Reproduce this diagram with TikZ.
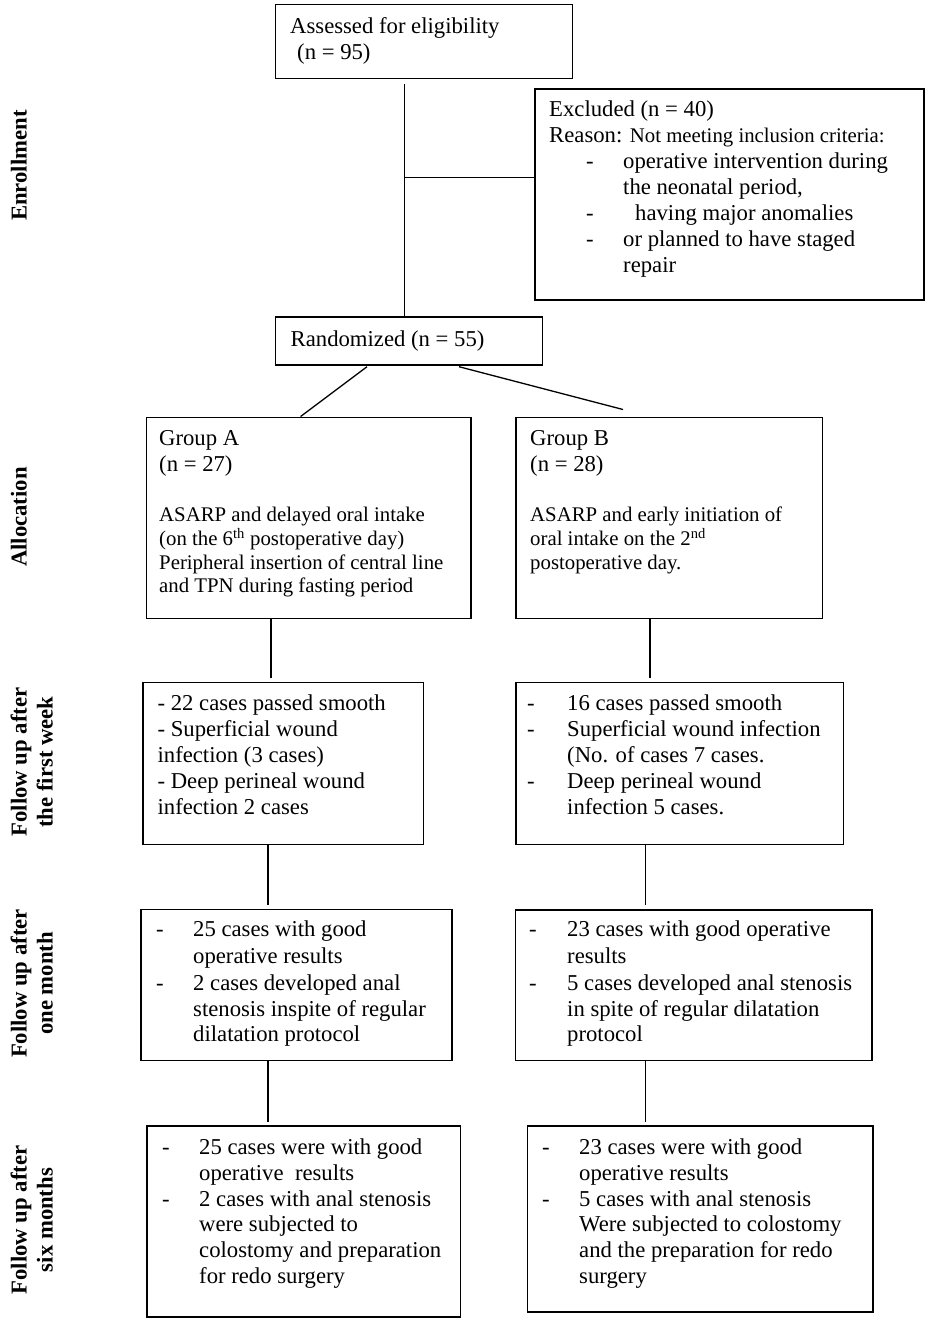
\documentclass[tikz,border=0pt]{standalone}
\usepackage{fontspec}
\setmainfont{Liberation Serif}
\newcommand\ftw{\fontsize{22.7}{26}\selectfont}
\newcommand\fel{\fontsize{20.8}{24}\selectfont}
\newcommand\bx[5]{\node[box, minimum width={(#4)-(#2)}, minimum height={(#5)-(#3)}] (#1) at (#2,#3) {};}
\begin{document}
\begin{tikzpicture}[x=1pt,y=-1pt,
 box/.style={draw, line width=1.5pt, inner sep=0pt, anchor=north west},
 txt/.style={anchor=base west, inner sep=0pt, font=\ftw},
 sm/.style={anchor=base west, inner sep=0pt, font=\fel},
 side/.style={anchor=base, inner sep=0pt, rotate=90, font=\ftw\bfseries},
 conn/.style={line width=1.3pt}]
\useasboundingbox[fill=white] (0,0) rectangle (927,1318);

% boxes
\bx{assess}{274.5}{3.5}{571.5}{77.5}
\bx{excl}{534}{88}{923}{299}
\bx{rand}{274.5}{316}{541.5}{364}
\bx{grpA}{145.5}{416.5}{470}{617.5}
\bx{grpB}{515}{416.5}{821.5}{617.5}
\bx{wkA}{142}{681.5}{422.5}{843.5}
\bx{wkB}{515}{681.5}{842.5}{843.5}
\bx{monA}{140}{908.5}{451}{1059.5}
\bx{monB}{514.5}{909}{871}{1059.5}
\bx{sixA}{146}{1125}{459.5}{1316}
\bx{sixB}{526.5}{1125}{872}{1311}

% connectors
\coordinate (v0) at (404.7,84);
\draw[conn] (v0) -- (v0 |- rand.north);
\coordinate (br) at (404.7,177.7);
\draw[conn] (br) -- (br -| excl.west);
\coordinate (dA0) at (367,366.7);
\coordinate (dA1) at (300.6,416.5);
\draw[conn] (dA0) -- (dA1 |- grpA.north);
\coordinate (dB0) at (459,366.7);
\coordinate (dB1) at (623,409.5);
\draw[conn] (dB0) -- (dB1);
\coordinate (a1) at (271,678.3);
\coordinate (b1) at (650,678.3);
\coordinate (a2) at (268,905);
\coordinate (b2) at (645.6,905);
\coordinate (a3) at (268,1122.3);
\coordinate (b3) at (645.6,1122.3);
\draw[conn] (grpA.south -| a1) -- (a1);
\draw[conn] (grpB.south -| b1) -- (b1);
\draw[conn] (wkA.south -| a2) -- (a2);
\draw[conn] (wkB.south -| b2) -- (b2);
\draw[conn] (monA.south -| a3) -- (a3);
\draw[conn] (monB.south -| b3) -- (b3);

% side labels
\node[side] (s1) at (26.6,165.5) {Enrollment};
\node[side] (s2) at (26.6,517) {Allocation};
\node[side] (s3a) at (26.6,762) {Follow up after};
\node[side] (s3b) at (52.6,762) {the first week};
\node[side] (s4a) at (26.6,983.5) {Follow up after};
\node[side] (s4b) at (52.6,983.5) {one month};
\node[side] (s5a) at (26.6,1220) {Follow up after};
\node[side] (s5b) at (52.6,1220) {six months};

% assessed
\node[txt] (t1) at (290,33.3) {Assessed for eligibility};
\node[txt] (t2) at (297,59.3) {(n = 95)};
% excluded
\node[txt] (e1) at (549,116.7) {Excluded (n = 40)};
\node[txt] (e2) at (549,142.7) {Reason: {\fel Not meeting inclusion criteria:}};
\node[txt] (e3) at (586,168) {\makebox[37pt][l]{-}operative intervention during};
\node[txt] (e4) at (623,194) {the neonatal period,};
\node[txt] (e5) at (586,220) {\makebox[49pt][l]{-}having major anomalies};
\node[txt] (e6) at (586,246) {\makebox[37pt][l]{-}or planned to have staged};
\node[txt] (e7) at (623,272) {repair};
% randomized
\node[txt] (r1) at (290.5,346) {Randomized (n = 55)};
% group A
\node[txt] (ga1) at (159,445.7) {Group A};
\node[txt] (ga2) at (159,471.7) {(n = 27)};
\node[sm] (ga3) at (159,521.7) {ASARP and delayed oral intake};
\node[sm] (ga4) at (159,545.7) {(on the 6\textsuperscript{th} postoperative day)};
\node[sm] (ga5) at (159,569.3) {Peripheral insertion of central line};
\node[sm] (ga6) at (159,592.7) {and TPN during fasting period};
% group B
\node[txt] (gb1) at (530,445.7) {Group B};
\node[txt] (gb2) at (530,471.7) {(n = 28)};
\node[sm] (gb3) at (530,521.7) {ASARP and early initiation of};
\node[sm] (gb4) at (530,545.7) {oral intake on the 2\textsuperscript{nd}};
\node[sm] (gb5) at (530,569.3) {postoperative day.};
% week A
\node[txt] (wa1) at (157.4,710.7) {- 22 cases passed smooth};
\node[txt] (wa2) at (157.4,736.7) {- Superficial wound};
\node[txt] (wa3) at (157.4,762.7) {infection (3 cases)};
\node[txt] (wa4) at (157.4,788.3) {- Deep perineal wound};
\node[txt] (wa5) at (157.4,814.3) {infection 2 cases};
% week B
\node[txt] (wb1) at (527,710.7) {\makebox[40pt][l]{-}16 cases passed smooth};
\node[txt] (wb2) at (527,736.7) {\makebox[40pt][l]{-}Superficial wound infection};
\node[txt] (wb3) at (567,762.7) {(No. of cases 7 cases.};
\node[txt] (wb4) at (527,788.3) {\makebox[40pt][l]{-}Deep perineal wound};
\node[txt] (wb5) at (567,814.3) {infection 5 cases.};
% month A
\node[txt] (ma1) at (156,936.7) {\makebox[37pt][l]{-}25 cases with good};
\node[txt] (ma2) at (193,963.3) {operative results};
\node[txt] (ma3) at (156,990) {\makebox[37pt][l]{-}2 cases developed anal};
\node[txt] (ma4) at (193,1016) {stenosis inspite of regular};
\node[txt] (ma5) at (193,1041.7) {dilatation protocol};
% month B
\node[txt] (mb1) at (529,936.7) {\makebox[38pt][l]{-}23 cases with good operative};
\node[txt] (mb2) at (567,963.3) {results};
\node[txt] (mb3) at (529,990) {\makebox[38pt][l]{-}5 cases developed anal stenosis};
\node[txt] (mb4) at (567,1016) {in spite of regular dilatation};
\node[txt] (mb5) at (567,1041.7) {protocol};
% six A
\node[txt] (xa1) at (162,1154.3) {\makebox[37pt][l]{-}25 cases were with good};
\node[txt] (xa2) at (199,1180) {operative\ \ results};
\node[txt] (xa3) at (162,1206.7) {\makebox[37pt][l]{-}2 cases with anal stenosis};
\node[txt] (xa4) at (199,1231.7) {were subjected to};
\node[txt] (xa5) at (199,1257.7) {colostomy and preparation};
\node[txt] (xa6) at (199,1283.3) {for redo surgery};
% six B
\node[txt] (xb1) at (542,1154.3) {\makebox[37pt][l]{-}23 cases were with good};
\node[txt] (xb2) at (579,1180) {operative results};
\node[txt] (xb3) at (542,1206.7) {\makebox[37pt][l]{-}5 cases with anal stenosis};
\node[txt] (xb4) at (579,1231.7) {Were subjected to colostomy};
\node[txt] (xb5) at (579,1257.7) {and the preparation for redo};
\node[txt] (xb6) at (579,1283.3) {surgery};
\end{tikzpicture}
\end{document}
